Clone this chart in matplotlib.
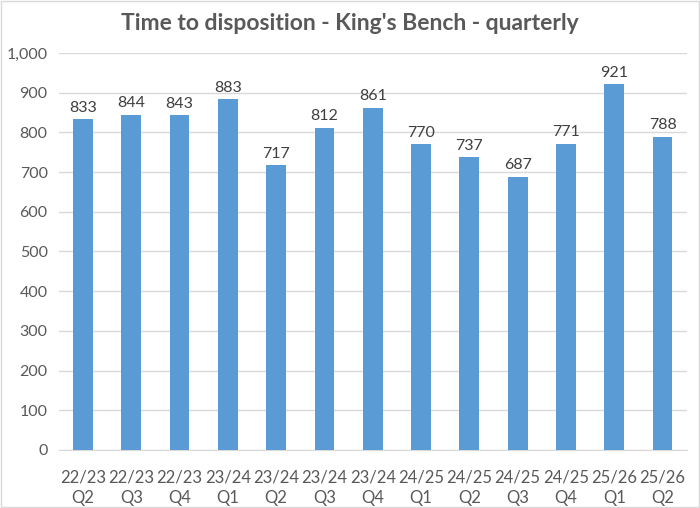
import matplotlib
matplotlib.use("Agg")
import matplotlib.pyplot as plt
from matplotlib.patches import Rectangle

categories = ["22/23\nQ2", "22/23\nQ3", "22/23\nQ4", "23/24\nQ1", "23/24\nQ2", "23/24\nQ3",
              "23/24\nQ4", "24/25\nQ1", "24/25\nQ2", "24/25\nQ3", "24/25\nQ4", "25/26\nQ1", "25/26\nQ2"]
values = [833, 844, 843, 883, 717, 812, 861, 770, 737, 687, 771, 921, 788]
yticks = [0, 100, 200, 300, 400, 500, 600, 700, 800, 900, 1000]

plt.rcParams['font.family'] = ['Lato', 'DejaVu Sans']
text_color = '#595959'

fig = plt.figure(figsize=(7, 5.08), dpi=100)
ax = fig.add_axes([0.084, 0.1142, 0.897, 0.7815])
x = list(range(len(values)))
ax.bar(x, values, width=0.41, color='#5b9bd5', zorder=3)
for xi, v in zip(x, values):
    ax.text(xi, v + 12, f"{v}", ha='center', va='bottom', fontsize=11.5, color='#404040')

ax.set_xlim(-0.5, len(values) - 0.5)
ax.set_ylim(0, 1000)
ax.set_yticks(yticks)
ax.set_yticklabels([f"{t:,}" for t in yticks])
ax.set_xticks(x)
ax.set_xticklabels(categories, linespacing=1.35)
ax.grid(axis='y', color='#d9d9d9', linewidth=1, zorder=0)
for s in ['top', 'right', 'left']:
    ax.spines[s].set_visible(False)
ax.spines['bottom'].set_color('#d9d9d9')
ax.tick_params(axis='y', length=0, labelsize=11.5, labelcolor=text_color, pad=8)
ax.tick_params(axis='x', length=0, labelsize=12, labelcolor=text_color, pad=14)

fig.text(0.5, 0.953, "Time to disposition - King's Bench - quarterly", ha='center', va='center',
         fontsize=16.5, fontweight='bold', color=text_color)
fig.patches.append(Rectangle((0.001, 0.001), 0.997, 0.997, transform=fig.transFigure,
                             fill=False, edgecolor='#d9d9d9', linewidth=1))
fig.savefig("out.png", dpi=100)
